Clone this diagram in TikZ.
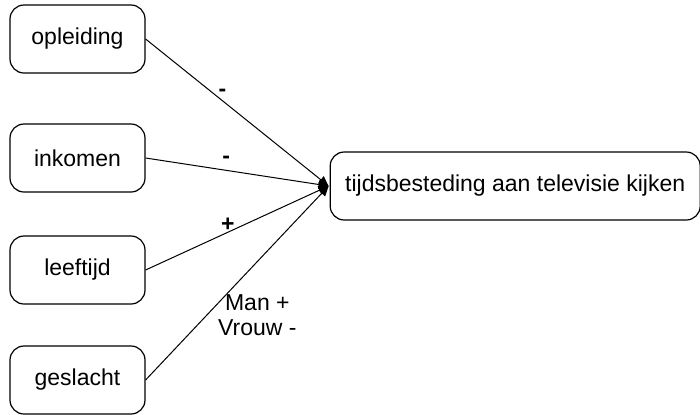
\documentclass[tikz,border=0pt]{standalone}
\usepackage{fontspec}
\setmainfont{Liberation Sans}
\usepackage{tikz}
\usetikzlibrary{positioning,arrows.meta}
\tikzset{factor/.style={draw, rounded corners=7pt, line width=0.6pt, minimum width=67.5pt, minimum height=34pt, inner sep=1pt, font=\fontsize{11.5}{13}\selectfont}}
\tikzset{outcome/.style={factor, minimum width=185pt}}
\tikzset{effect/.style={line width=0.5pt, -{Triangle[length=5pt,width=4.5pt]}}}
\tikzset{sign/.style={font=\fontsize{11.5}{12.5}\selectfont\bfseries, inner sep=2pt}}

\begin{document}
\begin{tikzpicture}[node distance=56pt]
\useasboundingbox (-38.75pt,19.5pt) rectangle (311.25pt,-187.5pt);
%--------------------
% the factors
%--------------------
\node[factor](opleiding){opleiding};
\node[factor](inkomen)[below of=opleiding, yshift=-3.5pt]{inkomen};
\node[factor](leeftijd)[below of=inkomen]{leeftijd};
\node[factor](geslacht)[below of=leeftijd, yshift=1pt]{geslacht};

%--------------------
% what they act on
%--------------------
\node[outcome](tv)[right=92pt of inkomen, yshift=-14pt]{tijdsbesteding aan televisie kijken};
\coordinate (hub) at ([xshift=-0.5pt]tv.west);

\draw[effect] (opleiding.east) -- node[sign, pos=0.42, above]{-} (hub);
\draw[effect] (inkomen.east) -- node[sign, pos=0.44, above, yshift=1pt]{-} (hub);
\draw[effect] (leeftijd.east) -- node[sign, pos=0.45, above, yshift=-2pt]{+} (hub);
\draw[effect] (geslacht.east) -- node[pos=0.35, right, align=center, inner sep=2pt, xshift=2pt, yshift=-1.5pt, font=\fontsize{11.5}{12.5}\selectfont]{Man +\\Vrouw -} (hub);
\end{tikzpicture}
\end{document}
